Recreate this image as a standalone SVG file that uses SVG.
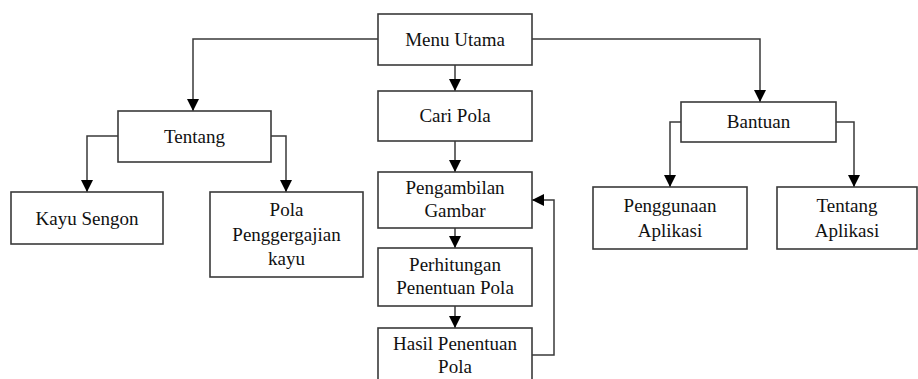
<svg xmlns="http://www.w3.org/2000/svg" width="918" height="379" viewBox="0 0 918 379">
  <defs>
    <marker id="arrow" markerWidth="12" markerHeight="12" refX="12" refY="6" orient="auto" markerUnits="userSpaceOnUse">
      <path d="M0,0 L12,6 L0,12 Z" fill="#000"/>
    </marker>
    <style>
      .box { fill: #fff; stroke: #3a3a3a; stroke-width: 1.6; }
      .wire { fill: none; stroke: #3a3a3a; stroke-width: 1.5; marker-end: url(#arrow); }
    </style>
  </defs>
  <rect width="918" height="379" fill="#fff"/>

  <g id="connectors">
    <path class="wire" d="M378,39 H193 V111"/>
    <path class="wire" d="M532,39 H760 V102"/>
    <path class="wire" d="M455,65 V91"/>
    <path class="wire" d="M455,141 V172"/>
    <path class="wire" d="M455,228 V248"/>
    <path class="wire" d="M455,306 V328"/>
    <path class="wire" d="M532,355 H554 V200 H532"/>
    <path class="wire" d="M118,136 H87 V192"/>
    <path class="wire" d="M271,136 H286 V192"/>
    <path class="wire" d="M681,122 H670 V187"/>
    <path class="wire" d="M836,122 H854 V187"/>
  </g>

  <g id="nodes" font-family="Liberation Serif, Times New Roman, DejaVu Serif, serif" font-size="19" fill="#111" text-anchor="middle">
    <g id="menu-utama">
      <rect class="box" x="378" y="14" width="154" height="51"/>
      <text x="455" y="46">Menu Utama</text>
    </g>
    <g id="tentang">
      <rect class="box" x="118" y="111" width="153" height="51"/>
      <text x="194.5" y="143">Tentang</text>
    </g>
    <g id="cari-pola">
      <rect class="box" x="378" y="91" width="154" height="50"/>
      <text x="455" y="122">Cari Pola</text>
    </g>
    <g id="bantuan">
      <rect class="box" x="681" y="102" width="155" height="40"/>
      <text x="758.5" y="128">Bantuan</text>
    </g>
    <g id="kayu-sengon">
      <rect class="box" x="11" y="192" width="152" height="52"/>
      <text x="87" y="225">Kayu Sengon</text>
    </g>
    <g id="pola-penggergajian">
      <rect class="box" x="210" y="192" width="153" height="85"/>
      <text x="286.5" y="216">Pola</text>
      <text x="286.5" y="241">Penggergajian</text>
      <text x="286.5" y="265">kayu</text>
    </g>
    <g id="pengambilan-gambar">
      <rect class="box" x="378" y="172" width="154" height="56"/>
      <text x="455" y="194">Pengambilan</text>
      <text x="455" y="217">Gambar</text>
    </g>
    <g id="perhitungan">
      <rect class="box" x="378" y="248" width="154" height="58"/>
      <text x="455" y="271">Perhitungan</text>
      <text x="455" y="294">Penentuan Pola</text>
    </g>
    <g id="hasil-penentuan">
      <rect class="box" x="378" y="328" width="154" height="62"/>
      <text x="455" y="350">Hasil Penentuan</text>
      <text x="455" y="373">Pola</text>
    </g>
    <g id="penggunaan-aplikasi">
      <rect class="box" x="593" y="187" width="154" height="62"/>
      <text x="670" y="212">Penggunaan</text>
      <text x="670" y="237">Aplikasi</text>
    </g>
    <g id="tentang-aplikasi">
      <rect class="box" x="777" y="187" width="140" height="62"/>
      <text x="847" y="212">Tentang</text>
      <text x="847" y="237">Aplikasi</text>
    </g>
  </g>
</svg>
